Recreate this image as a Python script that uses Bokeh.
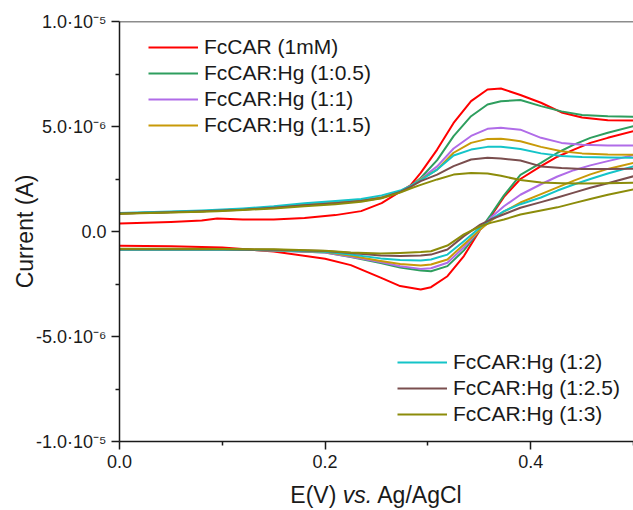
from bokeh.plotting import figure
from bokeh.models import Legend, LegendItem, FixedTicker, Span, Div
from bokeh.layouts import column
from bokeh.embed import file_html
from bokeh.resources import INLINE

# ---------------- data (current in microampere, converted to A below) -------------
LABELS = ["FcCAR (1mM)", "FcCAR:Hg (1:0.5)", "FcCAR:Hg (1:1)", "FcCAR:Hg (1:1.5)",
          "FcCAR:Hg (1:2)", "FcCAR:Hg (1:2.5)", "FcCAR:Hg (1:3)"]
COLORS = ["#FF0000", "#2E9E5E", "#B06CE8", "#C89A08", "#14C4C8", "#7A4E4E", "#8C8C0A"]

# anodic (upper) branch potentials, V
X_UP = [0.0, 0.05, 0.08, 0.095, 0.12, 0.15, 0.18, 0.21, 0.235, 0.255, 0.273, 0.283,
        0.293, 0.309, 0.325, 0.342, 0.358, 0.371, 0.39, 0.41, 0.43, 0.45, 0.475, 0.5]
RED_UP    = [0.38, 0.45, 0.52, 0.62, 0.57, 0.57, 0.64, 0.78, 0.97, 1.35, 1.90, 2.20,
             2.79, 3.90, 5.17, 6.21, 6.76, 6.81, 6.50, 6.13, 5.67, 5.43, 5.30, 5.28]
GREEN_UP  = [0.86, 0.93, 0.97, 1.00, 1.06, 1.15, 1.28, 1.38, 1.48, 1.62, 1.90, 2.15,
             2.55, 3.40, 4.54, 5.49, 6.05, 6.20, 6.26, 5.97, 5.72, 5.55, 5.49, 5.46]
PURPLE_UP = [0.86, 0.93, 0.97, 1.00, 1.06, 1.15, 1.28, 1.38, 1.48, 1.62, 1.90, 2.15,
             2.50, 3.10, 3.95, 4.55, 4.89, 4.94, 4.85, 4.46, 4.22, 4.13, 4.10, 4.10]
GOLD_UP   = [0.86, 0.93, 0.97, 1.00, 1.06, 1.15, 1.27, 1.37, 1.47, 1.62, 1.90, 2.15,
             2.48, 2.95, 3.75, 4.22, 4.41, 4.42, 4.30, 4.03, 3.82, 3.72, 3.67, 3.65]
CYAN_UP   = [0.88, 0.95, 1.00, 1.03, 1.10, 1.20, 1.35, 1.45, 1.55, 1.72, 1.95, 2.17,
             2.45, 2.95, 3.62, 3.90, 4.03, 4.04, 3.93, 3.72, 3.60, 3.55, 3.52, 3.51]
BROWN_UP  = [0.86, 0.92, 0.96, 0.99, 1.04, 1.13, 1.25, 1.35, 1.45, 1.60, 1.88, 2.12,
             2.40, 2.71, 3.11, 3.43, 3.51, 3.48, 3.38, 3.10, 3.02, 2.98, 2.98, 2.99]
OLIVE_UP  = [0.84, 0.90, 0.94, 0.97, 1.02, 1.10, 1.20, 1.30, 1.42, 1.58, 1.85, 2.05,
             2.22, 2.48, 2.71, 2.79, 2.76, 2.65, 2.45, 2.33, 2.30, 2.29, 2.30, 2.32]

# cathodic (lower) branch potentials, V
X_LO = [0.0, 0.05, 0.1, 0.15, 0.2, 0.225, 0.254, 0.273, 0.293, 0.303, 0.319, 0.335,
        0.351, 0.361, 0.374, 0.39, 0.41, 0.426, 0.442, 0.458, 0.475, 0.5]
RED_LO    = [-0.68, -0.70, -0.76, -0.95, -1.30, -1.60, -2.20, -2.60, -2.76, -2.65, -2.13,
             -1.17, 0.10, 0.70, 1.65, 2.50, 3.11, 3.56, 3.90, 4.22, 4.46, 4.78]
GREEN_LO  = [-0.86, -0.86, -0.86, -0.90, -1.00, -1.22, -1.50, -1.72, -1.86, -1.89, -1.65,
             -0.90, 0.10, 0.78, 1.72, 2.70, 3.27, 3.75, 4.14, 4.46, 4.70, 5.02]
PURPLE_LO = [-0.86, -0.86, -0.86, -0.90, -1.00, -1.20, -1.45, -1.65, -1.78, -1.75, -1.49,
             -0.75, 0.10, 0.65, 1.20, 1.75, 2.25, 2.62, 2.92, 3.15, 3.35, 3.64]
GOLD_LO   = [-0.86, -0.86, -0.86, -0.89, -0.98, -1.15, -1.40, -1.55, -1.62, -1.57, -1.33,
             -0.62, 0.10, 0.50, 0.95, 1.38, 1.78, 2.10, 2.42, 2.72, 2.98, 3.27]
CYAN_LO   = [-0.87, -0.87, -0.87, -0.89, -0.96, -1.10, -1.28, -1.36, -1.38, -1.33, -1.10,
             -0.46, 0.20, 0.57, 0.97, 1.30, 1.62, 1.95, 2.24, 2.50, 2.76, 3.10]
BROWN_LO  = [-0.85, -0.85, -0.85, -0.87, -0.93, -1.02, -1.14, -1.17, -1.14, -1.10, -0.86,
             -0.22, 0.33, 0.57, 0.82, 1.13, 1.40, 1.62, 1.85, 2.08, 2.30, 2.63]
OLIVE_LO  = [-0.82, -0.82, -0.83, -0.85, -0.92, -1.00, -1.05, -1.02, -0.98, -0.94, -0.67,
             -0.14, 0.25, 0.41, 0.57, 0.81, 1.00, 1.15, 1.35, 1.55, 1.75, 2.00]

UPPER = [RED_UP, GREEN_UP, PURPLE_UP, GOLD_UP, CYAN_UP, BROWN_UP, OLIVE_UP]
LOWER = [RED_LO, GREEN_LO, PURPLE_LO, GOLD_LO, CYAN_LO, BROWN_LO, OLIVE_LO]

Y_TICKS = [-1e-5, -5e-6, 0.0, 5e-6, 1e-5]
Y_TICK_LABELS = ["-1.0·10⁻⁵", "-5.0·10⁻⁶", "0.0", "5.0·10⁻⁶", "1.0·10⁻⁵"]
X_TICKS = [0.0, 0.2, 0.4]
X_TICK_LABELS = ["0.0", "0.2", "0.4"]

FONT = "Liberation Sans"
UA = 1e-6

p = figure(width=633, height=480, x_range=(0.0, 0.5), y_range=(-1e-5, 1e-5),
           output_backend="svg", toolbar_location=None,
           min_border_left=119, min_border_right=0, min_border_top=21, min_border_bottom=39)
p.outline_line_color = None
p.xgrid.visible = False
p.ygrid.visible = False
p.background_fill_color = "white"
p.border_fill_color = "white"

renderers = []
for col, up, lo in zip(COLORS, UPPER, LOWER):
    r1 = p.line(X_UP, [v * UA for v in up], line_color=col, line_width=2, line_join="round")
    p.line(X_LO, [v * UA for v in lo], line_color=col, line_width=2, line_join="round")
    renderers.append(r1)

# axes
for ax in (p.xaxis[0], p.yaxis[0]):
    ax.axis_line_color = "#1a1a1a"
    ax.axis_line_width = 1.5
    ax.major_tick_line_color = "#1a1a1a"
    ax.major_tick_line_width = 1.5
    ax.minor_tick_line_color = "#1a1a1a"
    ax.minor_tick_line_width = 1.5
    ax.major_tick_in = 0
    ax.major_tick_out = 8
    ax.minor_tick_in = 0
    ax.minor_tick_out = 4
    ax.major_label_text_font = FONT
    ax.major_label_text_font_size = "18px"
    ax.major_label_text_color = "#1a1a1a"
    ax.major_label_standoff = 5

p.xaxis.ticker = FixedTicker(ticks=X_TICKS, minor_ticks=[0.1, 0.3, 0.5])
p.xaxis.major_label_overrides = {t: s for t, s in zip(X_TICKS, X_TICK_LABELS)}
p.yaxis.ticker = FixedTicker(ticks=Y_TICKS, minor_ticks=[-7.5e-6, -2.5e-6, 2.5e-6, 7.5e-6])
p.yaxis.major_label_overrides = {t: s for t, s in zip(Y_TICKS, Y_TICK_LABELS)}
p.yaxis.axis_label = "Current (A)"
p.yaxis.axis_label_text_font = FONT
p.yaxis.axis_label_text_font_size = "23px"
p.yaxis.axis_label_text_font_style = "normal"
p.yaxis.axis_label_text_color = "#1a1a1a"
p.yaxis.axis_label_standoff = -5

# top frame line
p.add_layout(Span(location=1e-5, dimension="width", line_color="#1a1a1a", line_width=1.5))

def make_legend(idx, loc):
    lg = Legend(items=[LegendItem(label=LABELS[i], renderers=[renderers[i]]) for i in idx],
                location=loc, orientation="vertical")
    lg.label_text_font = FONT
    lg.label_text_font_size = "21px"
    lg.label_text_color = "#1a1a1a"
    lg.glyph_width = 50
    lg.glyph_height = 24
    lg.label_height = 24
    lg.spacing = 2
    lg.padding = 0
    lg.margin = 0
    lg.label_standoff = 6
    lg.border_line_color = None
    lg.background_fill_alpha = 0
    return lg

p.add_layout(make_legend([0, 1, 2, 3], (29, 304)))
p.add_layout(make_legend([4, 5, 6], (278, 15)))

# x axis title (with italic "vs.") as real HTML text under the plot
xtitle = Div(text='<div style="font-family: \'Liberation Sans\', Arial, sans-serif; '
                  'font-size: 23px; color: #1a1a1a; line-height: 30px; white-space: nowrap; '
                  'width: 633px; text-align: center; padding-left: 119px; box-sizing: border-box;">'
                  'E(V) <i>vs.</i> Ag/AgCl</div>',
             width=633, height=30, margin=(0, 0, 0, 0))

layout = column(p, xtitle, spacing=0)
open("out.html", "w").write(file_html(layout, INLINE))
